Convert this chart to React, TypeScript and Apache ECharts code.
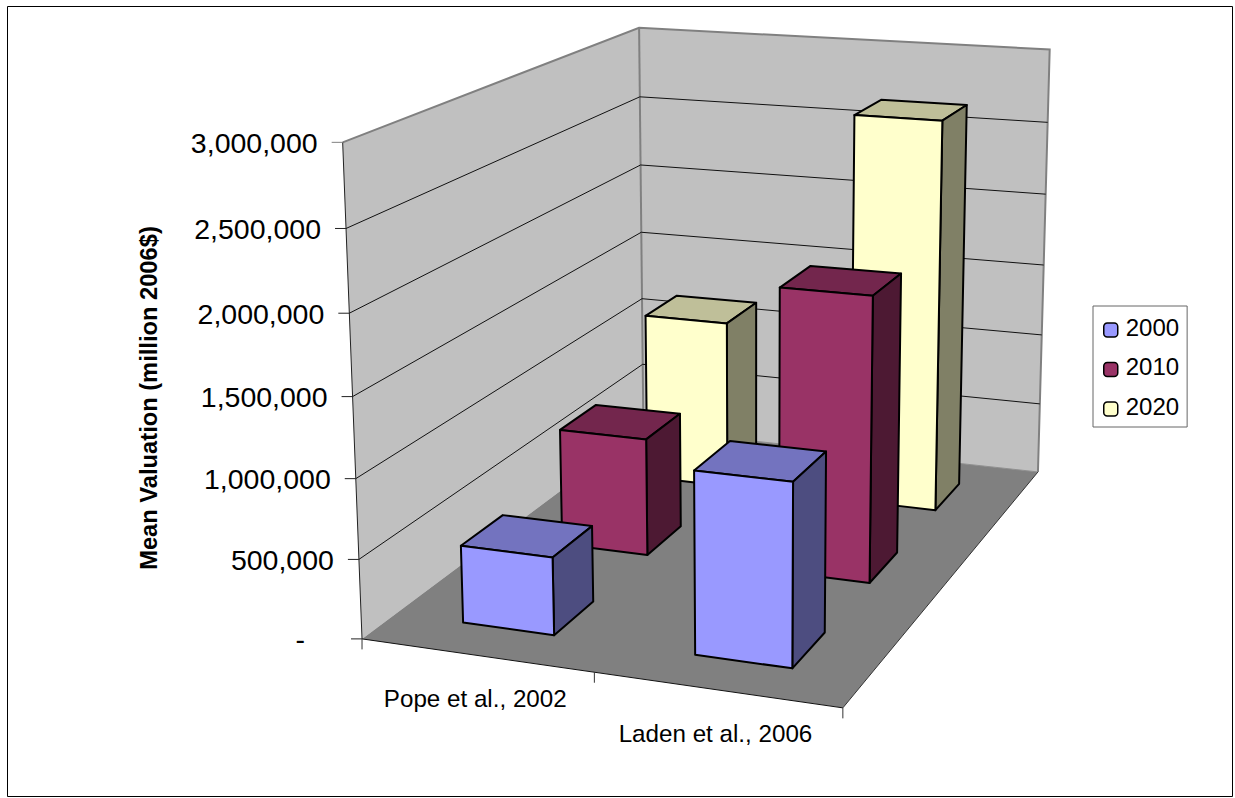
import React, { useEffect, useRef } from "react";
import * as echarts from "echarts";

const categories = ["Pope et al., 2002", "Laden et al., 2006"];
const years = ["2000", "2010", "2020"];
const values2000 = [490000, 1130000];
const values2010 = [780000, 1855000];
const values2020 = [1170000, 2670000];
const tickValues = [0, 500000, 1000000, 1500000, 2000000, 2500000, 3000000];
const tickLabels = ["-", "500,000", "1,000,000", "1,500,000", "2,000,000", "2,500,000", "3,000,000"];
const yTitle = "Mean Valuation (million 2006$)";

const FONT = '"Liberation Sans", Arial, sans-serif';
const MAX_VALUE = 3000000;
const BAR_RATIO = 0.4;

// Box corners in page pixels, used to fit the perspective camera: [u, v, w, px, py]
const BOX_CORNERS = [
  [0, 0, 0, 361, 638.7],
  [0, 0, 1, 343.3, 142.7],
  [1, 0, 0, 843.3, 707.7],
  [0, 1, 0, 644.5, 429],
  [0, 1, 1, 638.3, 27.7],
  [1, 1, 1, 1050, 49.3],
  [1, 1, 0, 1037.3, 472.3],
];

// Least-squares direct linear transform, with the last matrix entry fixed to 1.
function fitCamera(points: number[][]) {
  const rows: number[][] = [];
  const rhs: number[] = [];
  for (const [X, Y, Z, x, y] of points) {
    rows.push([X, Y, Z, 1, 0, 0, 0, 0, -x * X, -x * Y, -x * Z]);
    rhs.push(x);
    rows.push([0, 0, 0, 0, X, Y, Z, 1, -y * X, -y * Y, -y * Z]);
    rhs.push(y);
  }
  const n = 11;
  const m: number[][] = [];
  for (let i = 0; i < n; i++) {
    const row = new Array(n + 1).fill(0);
    for (let j = 0; j < n; j++) {
      for (let k = 0; k < rows.length; k++) row[j] += rows[k][i] * rows[k][j];
    }
    for (let k = 0; k < rows.length; k++) row[n] += rows[k][i] * rhs[k];
    m.push(row);
  }
  for (let c = 0; c < n; c++) {
    let p = c;
    for (let r = c + 1; r < n; r++) if (Math.abs(m[r][c]) > Math.abs(m[p][c])) p = r;
    [m[c], m[p]] = [m[p], m[c]];
    for (let r = 0; r < n; r++) {
      if (r === c) continue;
      const f = m[r][c] / m[c][c];
      for (let j = c; j <= n; j++) m[r][j] -= f * m[c][j];
    }
  }
  return m.map((row, i) => row[n] / row[i]);
}

const cam = fitCamera(BOX_CORNERS);

function project(u: number, v: number, w: number): number[] {
  const d = cam[8] * u + cam[9] * v + cam[10] * w + 1;
  return [
    (cam[0] * u + cam[1] * v + cam[2] * w + cam[3]) / d,
    (cam[4] * u + cam[5] * v + cam[6] * w + cam[7]) / d,
  ];
}

// Turns a category/value pair into the box's unit coordinates through the chart's scales.
function unitOf(params: any, api: any, cat: number, value: number) {
  const cs = params.coordSys;
  const p = api.coord([cat, value]);
  return { u: (p[0] - cs.x) / cs.width, w: (cs.y + cs.height - p[1]) / cs.height };
}

function face(points: number[][], fill: string, stroke: string, lineWidth: number) {
  return {
    type: "polygon",
    shape: { points },
    style: { fill, stroke, lineWidth, lineJoin: "round" },
  };
}

function line(points: number[][], stroke: string, lineWidth: number) {
  return {
    type: "polyline",
    shape: { points },
    style: { fill: "none", stroke, lineWidth },
  };
}

function label(text: string, x: number, y: number, size: number, align: string) {
  return {
    type: "text",
    x,
    y,
    style: {
      text,
      fill: "#000",
      fontFamily: FONT,
      fontSize: size,
      textAlign: align,
      textVerticalAlign: "middle",
    },
  };
}

function renderWalls(params: any, api: any) {
  const top = unitOf(params, api, 0, MAX_VALUE).w;
  const a = project(0, 0, 0);
  const b = project(0, 0, top);
  const c = project(1, 0, 0);
  const d = project(0, 1, 0);
  const e = project(0, 1, top);
  const f = project(1, 1, top);
  const g = project(1, 1, 0);
  return {
    type: "group",
    children: [
      face([a, b, e, d], "#C0C0C0", "none", 0),
      face([d, e, f, g], "#C0C0C0", "none", 0),
      face([a, c, g, d], "#808080", "none", 0),
      line([b, e, f, g], "#808080", 2),
      line([e, d], "#808080", 2),
      line([d, g], "#8f8f8f", 1),
      line([a, b], "#222", 1),
      line([a, c], "#111", 1),
      line([c, g], "#333", 1),
    ],
  };
}

function renderGrid(params: any, api: any) {
  const idx = params.dataIndex;
  const w = unitOf(params, api, 0, api.value(1)).w;
  const p0 = project(0, 0, w);
  const p1 = project(0, 1, w);
  const p2 = project(1, 1, w);
  const children: any[] = [];
  if (idx > 0 && idx < tickValues.length - 1) children.push(line([p0, p1, p2], "#111", 1));
  children.push(line([[p0[0] - 11, p0[1]], p0], idx === tickValues.length - 1 ? "#808080" : "#222", 1));
  // The zero label is written with the number format's trailing padding.
  const pad = idx === 0 ? 57 : 25;
  children.push(label(tickLabels[idx], p0[0] - pad, p0[1] + 0.5, 28.5, "right"));
  return { type: "group", children };
}

function renderCategoryAxis(params: any, api: any) {
  const cs = params.coordSys;
  const band = api.size([1, 0])[0] / cs.width;
  const children: any[] = [];
  const cat = api.value(0);
  const { u } = unitOf(params, api, cat, 0);
  const start = project(u - band / 2, 0, 0);
  children.push(line([start, [start[0], start[1] + 10.5]], "#333", 1));
  if (cat === categories.length - 1) {
    const end = project(u + band / 2, 0, 0);
    children.push(line([end, [end[0], end[1] + 10.5]], "#333", 1));
  }
  const mid = project(u, 0, 0);
  children.push(label(categories[cat], mid[0] - 1, mid[1] + 43.5, 24.2, "center"));
  return { type: "group", children };
}

function barRenderer(depthIndex: number, front: string, topFace: string, side: string) {
  return (params: any, api: any) => {
    const cs = params.coordSys;
    const band = api.size([1, 0])[0] / cs.width;
    const { u, w } = unitOf(params, api, api.value(0), api.value(1));
    const halfU = (band * BAR_RATIO) / 2;
    const depthBand = 1 / years.length;
    const v = (depthIndex + 0.5) * depthBand;
    const halfV = (depthBand * BAR_RATIO) / 2;
    const u0 = u - halfU;
    const u1 = u + halfU;
    const v0 = v - halfV;
    const v1 = v + halfV;
    const fb0 = project(u0, v0, 0);
    const fb1 = project(u1, v0, 0);
    const bb1 = project(u1, v1, 0);
    const ft0 = project(u0, v0, w);
    const ft1 = project(u1, v0, w);
    const bt0 = project(u0, v1, w);
    const bt1 = project(u1, v1, w);
    return {
      type: "group",
      children: [
        face([ft0, bt0, bt1, ft1], topFace, "#000", 2),
        face([ft1, bt1, bb1, fb1], side, "#000", 2),
        face([fb0, ft0, ft1, fb1], front, "#000", 2),
      ],
    };
  };
}

function toRows(values: number[]) {
  return values.map((v, i) => [i, v]);
}

export default function App() {
  const ref = useRef<HTMLDivElement>(null);

  useEffect(() => {
    document.body.style.margin = "0";
    const chart = echarts.init(ref.current as HTMLDivElement, undefined, { renderer: "svg" });
    chart.setOption({
      animation: false,
      backgroundColor: "#fff",
      grid: { left: 0, right: 0, top: 0, bottom: 0 },
      xAxis: { type: "category", data: categories, show: false },
      yAxis: { type: "value", min: 0, max: MAX_VALUE, show: false },
      legend: {
        data: years,
        orient: "vertical",
        left: 1093,
        top: 306,
        padding: [9, 8, 9, 10],
        itemWidth: 14,
        itemHeight: 14,
        itemGap: 15.5,
        borderColor: "#666",
        borderWidth: 1,
        backgroundColor: "#fff",
        selectedMode: false,
        itemStyle: { borderColor: "#000", borderWidth: 1.5 },
        formatter: "{t|{name}}",
        textStyle: {
          fontFamily: FONT,
          fontSize: 24,
          color: "#000",
          rich: {
            t: {
              fontFamily: FONT,
              fontSize: 24,
              color: "#000",
              lineHeight: 30,
              verticalAlign: "top",
              padding: [0, 0, 0, 3],
            },
          },
        },
      },
      graphic: [
        {
          type: "rect",
          shape: { x: 7.5, y: 6.5, width: 1225, height: 790 },
          style: { fill: "none", stroke: "#000", lineWidth: 1 },
          silent: true,
        },
        {
          type: "text",
          x: 149,
          y: 398,
          rotation: Math.PI / 2,
          style: {
            text: yTitle,
            fill: "#000",
            fontFamily: FONT,
            fontSize: 23.7,
            fontWeight: "bold",
            textAlign: "center",
            textVerticalAlign: "middle",
          },
        },
      ],
      series: [
        { name: "walls", type: "custom", z: 1, silent: true, data: [[0, 0]], renderItem: renderWalls },
        {
          name: "grid",
          type: "custom",
          z: 1,
          silent: true,
          data: tickValues.map((v) => [0, v]),
          renderItem: renderGrid,
        },
        {
          name: "categoryAxis",
          type: "custom",
          z: 1,
          silent: true,
          data: categories.map((_, i) => [i, 0]),
          renderItem: renderCategoryAxis,
        },
        {
          name: "2020",
          type: "custom",
          z: 3,
          itemStyle: { color: "#FFFFCC" },
          data: toRows(values2020),
          renderItem: barRenderer(2, "#FFFFCC", "#BFBF99", "#808066"),
        },
        {
          name: "2010",
          type: "custom",
          z: 4,
          itemStyle: { color: "#993366" },
          data: toRows(values2010),
          renderItem: barRenderer(1, "#993366", "#73264D", "#4D1933"),
        },
        {
          name: "2000",
          type: "custom",
          z: 5,
          itemStyle: { color: "#9999FF" },
          data: toRows(values2000),
          renderItem: barRenderer(0, "#9999FF", "#7373BF", "#4D4D80"),
        },
      ],
    });
    return () => chart.dispose();
  }, []);

  return <div ref={ref} style={{ width: 1235, height: 798 }} />;
}
